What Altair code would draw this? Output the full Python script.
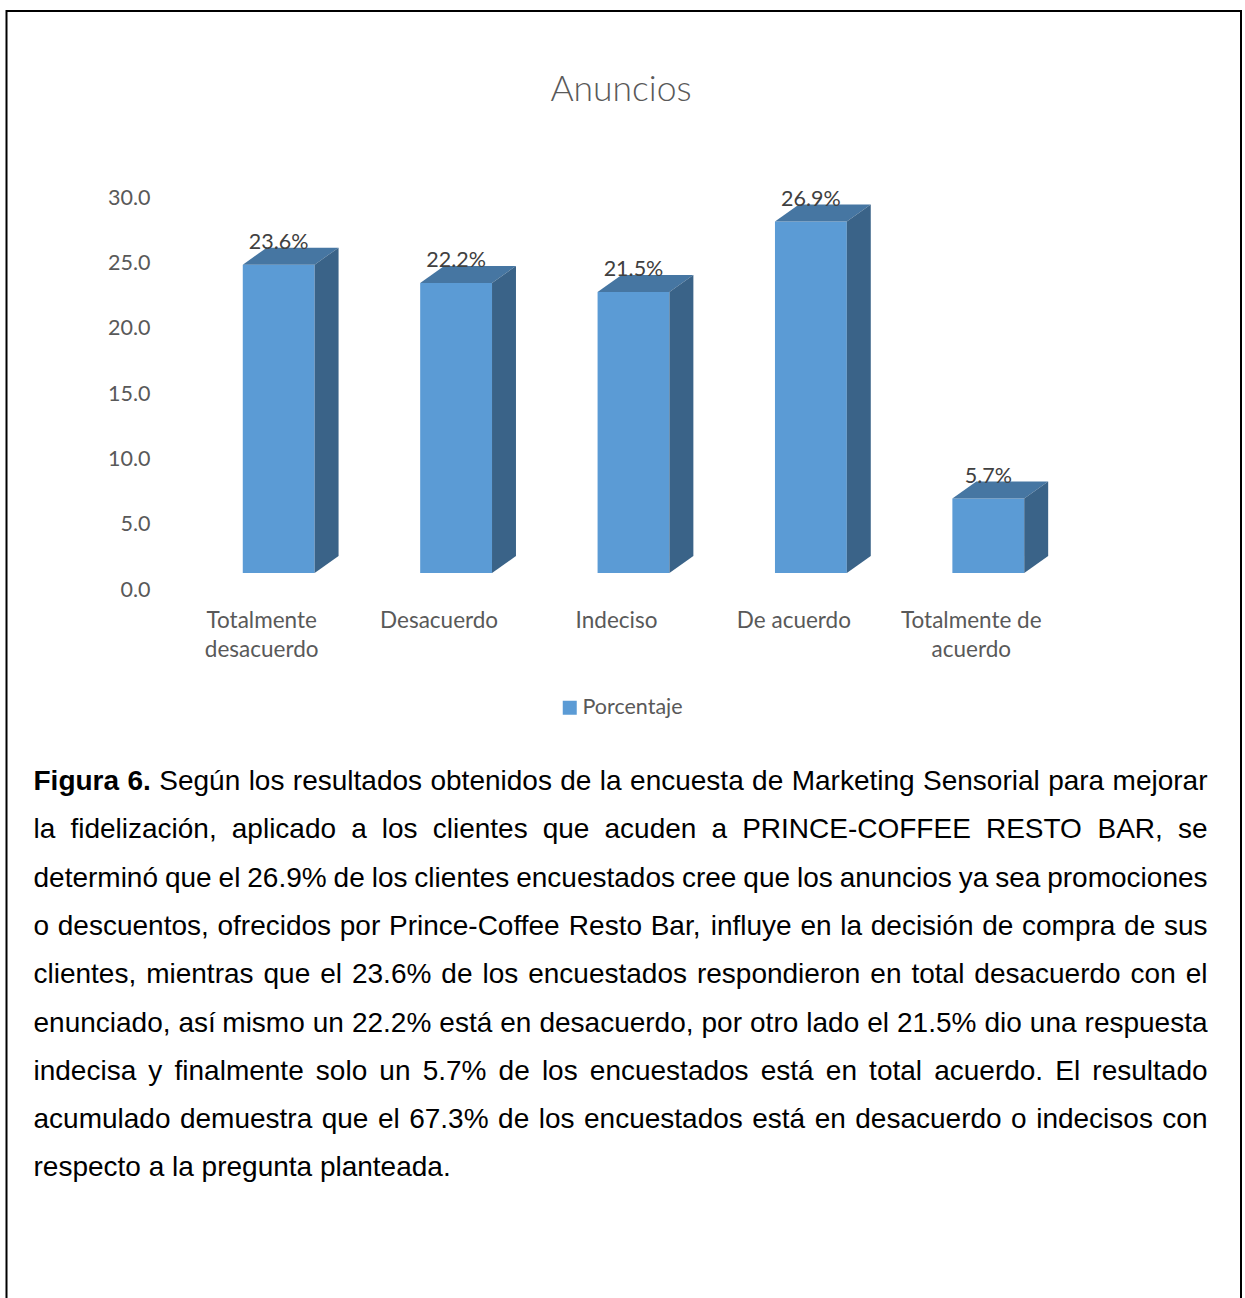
import json

import altair as alt
import pandas as pd

# ---------------------------------------------------------------- data
categories = ["Totalmente desacuerdo", "Desacuerdo", "Indeciso", "De acuerdo", "Totalmente de acuerdo"]
category_lines = ["Totalmente|desacuerdo", "Desacuerdo", "Indeciso", "De acuerdo", "Totalmente de|acuerdo"]
percentages = [23.6, 22.2, 21.5, 26.9, 5.7]
series_name = "Porcentaje"
y_ticks = [0, 5, 10, 15, 20, 25, 30]
chart_title = "Anuncios"

caption_bold_words = 2  # "Figura 6."
caption_lines = [
    "Figura 6. Según los resultados obtenidos de la encuesta de Marketing Sensorial para mejorar",
    "la fidelización, aplicado a los clientes que acuden a PRINCE-COFFEE RESTO BAR, se",
    "determinó que el 26.9% de los clientes encuestados cree que los anuncios ya sea promociones",
    "o descuentos, ofrecidos por Prince-Coffee Resto Bar, influye en la decisión de compra de sus",
    "clientes, mientras que el 23.6% de los encuestados respondieron en total desacuerdo con el",
    "enunciado, así mismo un 22.2% está en desacuerdo, por otro lado el 21.5% dio una respuesta",
    "indecisa y finalmente solo un 5.7% de los encuestados está en total acuerdo. El resultado",
    "acumulado demuestra que el 67.3% de los encuestados está en desacuerdo o indecisos con",
    "respecto a la pregunta planteada.",
]

# ---------------------------------------------------------------- layout / style
PAD_L, PAD_T = 190, 181
PLOT_W, PLOT_H = 887, 392
TOTAL_W, TOTAL_H = 1245, 1298

BAR_W = 0.405      # front face width, in category units
DEPTH_X = 0.135    # 3-D depth, category units
DEPTH_Y = 1.30     # 3-D depth, value units

FRONT = "#5B9BD5"
TOP = "#4676A2"
SIDE = "#3A6388"
GREY = "#595959"
LABEL_FONT = "Lato"
TEXT_FONT = "Liberation Sans"

n = len(categories)
df = pd.DataFrame({
    "category": categories,
    "pct": percentages,
    "pos": [i + 0.5 for i in range(n)],
    "serie": series_name,
})

x_scale = alt.Scale(domain=[0, n], nice=False, zero=False)
y_scale = alt.Scale(domain=[y_ticks[0], y_ticks[-1]], nice=False)

label_expr = f"split({json.dumps(category_lines)}[floor(datum.value)], '|')"
x_axis = alt.Axis(
    values=[i + 0.5 for i in range(n)], labelExpr=label_expr, title=None,
    domain=False, ticks=False, grid=False, labelOffset=-17.5, labelPadding=36,
    labelFont=LABEL_FONT, labelFontSize=22.5, labelColor=GREY, labelLineHeight=29,
    labelBaseline="top",
)
y_axis = alt.Axis(
    values=y_ticks, format=".1f", title=None, domain=False, ticks=False, grid=False,
    labelOffset=17, labelPadding=40, labelFont=LABEL_FONT, labelFontSize=21.5,
    labelColor=GREY,
)

base = alt.Chart(df).transform_calculate(
    x0=f"datum.pos - {BAR_W / 2}", x1=f"datum.pos + {BAR_W / 2}"
)

front = base.mark_rect().encode(
    x=alt.X("x0:Q", scale=x_scale, axis=x_axis),
    x2="x1:Q",
    y=alt.Y("pct:Q", scale=y_scale, axis=y_axis),
    y2=alt.datum(0),
    color=alt.Color(
        "serie:N",
        scale=alt.Scale(range=[FRONT]),
        legend=alt.Legend(
            title=None, orient="none", legendX=369, legendY=516, padding=0,
            symbolType="square", symbolSize=196, symbolStrokeWidth=0,
            labelFont=LABEL_FONT, labelFontSize=21.5, labelColor=GREY, labelOffset=2,
        ),
    ),
)

# two corners per bar, swept back along the depth direction
swept = base.transform_calculate(k0="0", k1="1").transform_fold(
    ["k0", "k1"], as_=["corner", "t"]
).transform_calculate(t="toNumber(datum.t)")

top = swept.transform_calculate(
    ty=f"datum.pct + datum.t * {DEPTH_Y}",
    tx0=f"datum.x0 + datum.t * {DEPTH_X}",
    tx1=f"datum.x1 + datum.t * {DEPTH_X}",
).mark_area(orient="horizontal", color=TOP).encode(
    y=alt.Y("ty:Q", scale=y_scale, axis=y_axis),
    x=alt.X("tx0:Q", scale=x_scale, axis=x_axis),
    x2="tx1:Q",
    detail="category:N",
)

side = swept.transform_calculate(
    sx=f"datum.x1 + datum.t * {DEPTH_X}",
    sy=f"datum.pct + datum.t * {DEPTH_Y}",
    sy2=f"datum.t * {DEPTH_Y}",
).mark_area(orient="vertical", color=SIDE).encode(
    x=alt.X("sx:Q", scale=x_scale, axis=x_axis),
    y=alt.Y("sy:Q", scale=y_scale, axis=y_axis),
    y2="sy2:Q",
    detail="category:N",
)

values = base.transform_calculate(
    label="format(datum.pct, '.1f') + '%'"
).mark_text(
    font=LABEL_FONT, fontSize=21.5, color="#404040", baseline="alphabetic", dy=-16
).encode(
    x=alt.X("pos:Q", scale=x_scale, axis=x_axis),
    y=alt.Y("pct:Q", scale=y_scale, axis=y_axis),
    text="label:N",
)

title = alt.Chart(pd.DataFrame({"t": [chart_title]})).mark_text(
    font=LABEL_FONT, fontWeight=300, fontSize=35.5, color=GREY,
    align="center", baseline="alphabetic",
).encode(x=alt.value(621 - PAD_L), y=alt.value(101 - PAD_T), text="t:N")

frame = alt.Chart(pd.DataFrame({"k": [0]})).mark_rect(
    fill="white", fillOpacity=0, stroke="black", strokeWidth=2
).encode(
    x=alt.value(6.5 - PAD_L), x2=alt.value(1241 - PAD_L),
    y=alt.value(11 - PAD_T), y2=alt.value(TOTAL_H + 100 - PAD_T),
)

# ---------------------------------------------------------------- caption (justified)
REG = {
    "A": 667, "B": 667, "C": 722, "D": 722, "E": 667, "F": 611, "G": 778, "H": 722,
    "I": 278, "J": 500, "K": 667, "L": 556, "M": 833, "N": 722, "O": 778, "P": 667,
    "Q": 778, "R": 722, "S": 667, "T": 611, "U": 722, "V": 667, "W": 944, "X": 667,
    "Y": 667, "Z": 611,
    "a": 556, "b": 556, "c": 500, "d": 556, "e": 556, "f": 278, "g": 556, "h": 556,
    "i": 222, "j": 222, "k": 500, "l": 222, "m": 833, "n": 556, "o": 556, "p": 556,
    "q": 556, "r": 333, "s": 500, "t": 278, "u": 556, "v": 500, "w": 722, "x": 500,
    "y": 500, "z": 500, "%": 889, ".": 278, ",": 278, "-": 333, " ": 278,
}
for d in "0123456789":
    REG[d] = 556
BOLD = dict(REG)
BOLD.update({"F": 611, "i": 278, "g": 611, "u": 611, "r": 389, "a": 556})
ACCENTS = str.maketrans("áéíóúñ", "aeioun")

CAP_SIZE = 28
CAP_X0, CAP_X1 = 33.5, 1207.5
CAP_BASE, CAP_STEP = 790, 48.3


def word_width(word, bold):
    table = BOLD if bold else REG
    return sum(table.get(ch, 556) for ch in word.translate(ACCENTS)) * CAP_SIZE / 1000


rows = []
for li, line in enumerate(caption_lines):
    words = line.split(" ")
    flags = [li == 0 and wi < caption_bold_words for wi in range(len(words))]
    widths = [word_width(w, b) for w, b in zip(words, flags)]
    last = li == len(caption_lines) - 1
    gap = REG[" "] * CAP_SIZE / 1000 if last else (
        (CAP_X1 - CAP_X0 - sum(widths)) / (len(words) - 1)
    )
    x = CAP_X0
    for w, b, wd in zip(words, flags, widths):
        rows.append({
            "word": w, "bold": b,
            "cx": x - PAD_L, "cy": CAP_BASE + li * CAP_STEP - PAD_T,
        })
        x += wd + gap
cap_df = pd.DataFrame(rows)


def caption_layer(bold):
    return alt.Chart(cap_df[cap_df["bold"] == bold]).mark_text(
        font=TEXT_FONT, fontSize=CAP_SIZE, fontWeight="bold" if bold else "normal",
        color="black", align="left", baseline="alphabetic",
    ).encode(
        x=alt.X("cx:Q", scale=None, axis=None),
        y=alt.Y("cy:Q", scale=None, axis=None),
        text="word:N",
    )


chart = alt.layer(
    frame, front, top, side, values, title, caption_layer(True), caption_layer(False)
).properties(
    width=PLOT_W, height=PLOT_H,
    autosize=alt.AutoSizeParams(type="none"),
    padding={"left": PAD_L, "top": PAD_T,
             "right": TOTAL_W - PAD_L - PLOT_W, "bottom": TOTAL_H - PAD_T - PLOT_H},
    background="white",
).configure_view(stroke=None)

chart.save("out.html", embed_options={"renderer": "svg", "actions": False})
